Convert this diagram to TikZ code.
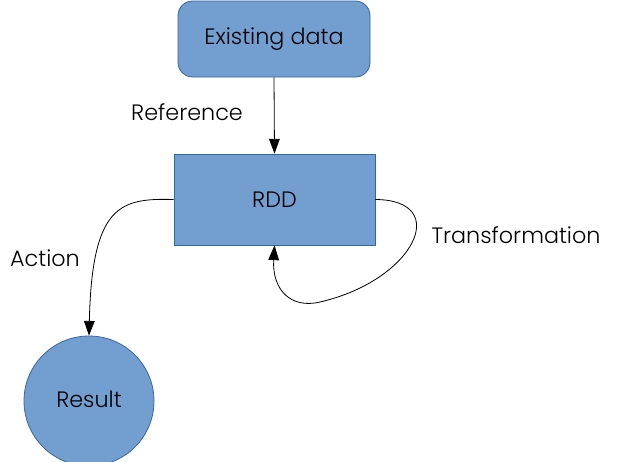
\documentclass[tikz,border=0pt]{standalone}
\usepackage{fontspec}
\setmainfont{Poppins}[UprightFont=* Light]
\usetikzlibrary{arrows.meta}
\definecolor{boxfill}{HTML}{729FCF}
\definecolor{boxline}{HTML}{3465A4}
\tikzset{
  shapebox/.style={draw=boxline, fill=boxfill, line width=0.6pt, inner sep=0pt, font=\fontsize{16.7}{19}\selectfont},
  lbl/.style={font=\fontsize{16.7}{19}\selectfont, inner sep=0pt},
  conn/.style={draw=black, line width=0.6pt, -{Triangle[length=11pt,width=8pt]}}
}
\begin{document}
\begin{tikzpicture}[x=0.75pt,y=-0.75pt]
\useasboundingbox (0,0) rectangle (624,461);
\node[shapebox, rounded corners=11pt, minimum width=192*0.75pt, minimum height=76*0.75pt] (data) at (274,39) {Existing data};
\node[shapebox, minimum width=201*0.75pt, minimum height=91*0.75pt] (rdd) at (274.5,199.5) {RDD};
\node[shapebox, circle, minimum size=130*0.75pt] (res) at (89,401) {};
\node[lbl] (restxt) at (89,399) {Result};
\node[lbl] (ref) at (187,112) {Reference};
\node[lbl] (trans) at (516,235) {Transformation};
\node[lbl] (act) at (45,258) {Action};
\draw[conn] (data.south) -- (rdd.north);
\draw[conn] (rdd.east) .. controls (452,200) and (415,280) .. (320,302) .. controls (291,309) and (272,290) .. (rdd.south);
\draw[conn] (rdd.west) .. controls (120,198) and (92,205) .. (res.north);
\end{tikzpicture}
\end{document}
